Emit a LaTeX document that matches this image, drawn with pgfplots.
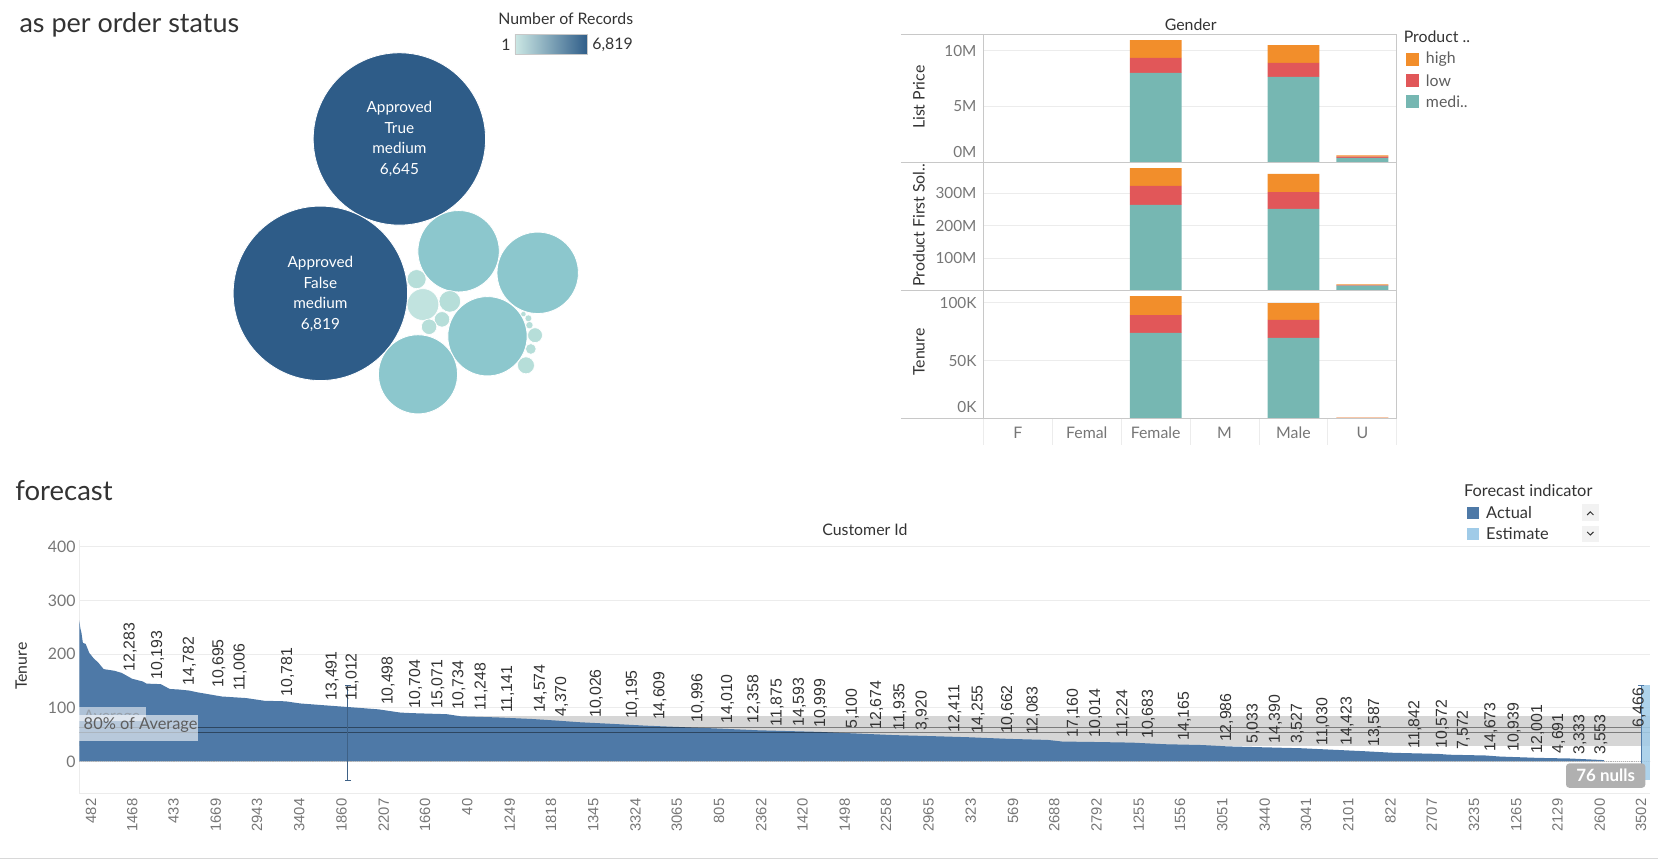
\documentclass[border=0pt]{standalone}
\usepackage{pgfplots}
\usepackage{pgfplotstable}
\pgfplotsset{compat=1.18}
\usepackage{fontspec}
\setmainfont{Lato}
\newfontfamily\arialf{Liberation Sans}
\newcommand{\fsz}[1]{\fontsize{#1}{#1}\selectfont}
\definecolor{dkblue}{RGB}{46,92,136}
\definecolor{ltteal}{RGB}{140,199,205}
\definecolor{pale}{RGB}{182,222,217}
\definecolor{thigh}{RGB}{242,142,43}
\definecolor{tlow}{RGB}{225,87,89}
\definecolor{tmed}{RGB}{118,183,178}
\definecolor{actual}{RGB}{78,121,167}
\definecolor{estim}{RGB}{160,203,232}
\definecolor{txt}{RGB}{51,51,51}
\definecolor{tickc}{RGB}{118,118,118}
\definecolor{gridc}{RGB}{236,236,236}
\definecolor{framec}{RGB}{200,200,200}
\definecolor{bandc}{RGB}{214,214,214}

\pgfplotstableread{
x med low high
2 8.0 1.35 1.6
4 7.65 1.25 1.6
5 0.40 0.10 0.12
}\tLP
\pgfplotstableread{
x med low high
2 264 59 55
4 252 52 56
5 14 2 2
}\tPF
\pgfplotstableread{
x med low high
2 73.9 15.4 16.4
4 69.6 15.5 14.6
5 0.6 0.2 0.2
}\tTN
\pgfplotstableread{
x y
75 263
76 248
77 240
78.4 221
81 219
84.5 202
88.6 192
93 184
98 172
108 169
115 165
125 154
135 149
138.6 145
152 144
160.5 135
169 134
179 132
186 129
209.6 121
233 118
250 113
270 112
284 108
304 105
324.5 102
338 100
358 97
378.6 91
389 90
422.5 88
436 84
470 82
503.6 79
527 76
548 73
578.6 70
612 66.5
656 63
670 62
717 58
774.6 55
798 53
845.6 49
883 47
916.6 45
953.6 42
991 40
1004.5 37
1041 36
1070.5 35
1102 32
1136.8 30.5
1161 28
1231 24.5
1290 19
1318 16
1360 14
1370 12.5
1405 11
1419 9
1454 6.6
1485 5.4
1517 2.4
1517 0
}\tArea
\pgfplotstableread{
x y lab
123 166 12,283
149 151 10,193
179 139 14,782
207 135 10,695
227 129 11,006
272 119 10,781
314 112 13,491
333 111 11,012
367 103 10,498
393 97 10,704
414 97 15,071
434 95 10,734
455 93 11,248
480 88 11,141
511 88 14,574
531 82 4,370
564 79 10,026
598 77 10,195
624 75 14,609
660 71 10,996
688 69 14,010
713 69 12,358
735 63 11,875
756 63 14,593
776 61 10,999
806 59 5,100
829 57 12,674
851 55 11,935
872 55 3,920
903 52 12,411
925 49 14,255
953 49 10,662
977 47 12,083
1015 43 17,160
1036 43 10,014
1062 43 11,224
1086 40 10,683
1120 37 14,165
1160 34 12,986
1185 31 5,033
1206 31 14,390
1227 31 3,527
1251 28 11,030
1274 28 14,423
1300 25 13,587
1338 22 11,842
1364 22 10,572
1384 19 7,572
1410 17 14,673
1432 16 10,939
1454 13 12,001
1474 13 4,691
1494 11 3,333
1514 11 3,553
1550 61 6,466
}\tLab

\pgfplotsset{
  bp/.style={width=391pt, height=121pt, scale only axis, anchor=north west,
    xmin=-0.5, xmax=5.5, xtick=\empty, ybar stacked, bar width=49pt,
    axis line style={draw=none}, ymajorgrids, grid style={draw=gridc, line width=0.7pt},
    major tick length=0pt, ymin=0,
    yticklabel style={font=\fsz{14.5}, text=tickc, xshift=-3pt},
    clip=false},
}

\begin{document}
\begin{tikzpicture}
\useasboundingbox (0pt,0pt) rectangle (1568pt,-814pt);

% ---------------- bubbles ----------------
\begin{axis}[at={(0pt,0pt)}, anchor=north west, width=1568pt, height=814pt,
  scale only axis, xmin=0, xmax=1568, ymin=0, ymax=814, y dir=reverse,
  hide axis, clip=false]
\addplot[only marks, mark=*, mark size=81.5, mark options={fill=dkblue, draw=white, line width=0.8pt}] coordinates {(377.7,131.4)};
\addplot[only marks, mark=*, mark size=82.5, mark options={fill=dkblue, draw=white, line width=0.8pt}] coordinates {(303,277.4)};
\addplot[only marks, mark=*, mark size=38.5, mark options={fill=ltteal, draw=white, line width=0.8pt}] coordinates {(433.7,237.6)};
\addplot[only marks, mark=*, mark size=38.5, mark options={fill=ltteal, draw=white, line width=0.8pt}] coordinates {(508.5,258)};
\addplot[only marks, mark=*, mark size=37.5, mark options={fill=ltteal, draw=white, line width=0.8pt}] coordinates {(461,318)};
\addplot[only marks, mark=*, mark size=37.4, mark options={fill=ltteal, draw=white, line width=0.8pt}] coordinates {(395.3,354)};
\addplot[only marks, mark=*, mark size=15, mark options={fill=pale!85!white, draw=white, line width=0.6pt}] coordinates {(400,288)};
\addplot[only marks, mark=*, mark size=9, mark options={fill=pale, draw=white, line width=0.6pt}] coordinates {(394,264)};
\addplot[only marks, mark=*, mark size=10.2, mark options={fill=pale, draw=white, line width=0.6pt}] coordinates {(425.4,285)};
\addplot[only marks, mark=*, mark size=7.3, mark options={fill=pale, draw=white, line width=0.6pt}] coordinates {(418,302)};
\addplot[only marks, mark=*, mark size=7.3, mark options={fill=pale, draw=white, line width=0.6pt}] coordinates {(405.8,309)};
\addplot[only marks, mark=*, mark size=8, mark options={fill=pale, draw=white, line width=0.6pt}] coordinates {(497.4,345.5)};
\addplot[only marks, mark=*, mark size=7, mark options={fill=pale, draw=white, line width=0.6pt}] coordinates {(506,317)};
\addplot[only marks, mark=*, mark size=5, mark options={fill=pale, draw=white, line width=0.5pt}] coordinates {(502,330)};
\addplot[only marks, mark=*, mark size=3.4, mark options={fill=pale, draw=white, line width=0.4pt}] coordinates {(500.7,307.5)};
\addplot[only marks, mark=*, mark size=3.2, mark options={fill=pale, draw=white, line width=0.4pt}] coordinates {(499.7,301)};
\addplot[only marks, mark=*, mark size=2.5, mark options={fill=pale, draw=white, line width=0.4pt}] coordinates {(495,297)};
\end{axis}

\node[align=center, text=white, font=\fontsize{14.5}{19.5}\selectfont] at (377.7pt,-131.4pt) {Approved\\True\\medium\\6,645};
\node[align=center, text=white, font=\fontsize{14.5}{19.5}\selectfont] at (303pt,-278pt) {Approved\\False\\medium\\6,819};

\node[anchor=west, text=txt, font=\fsz{25.5}] at (15pt,-24pt) {as per order status};
\node[text=txt, font=\fsz{15}] at (535pt,-18pt) {Number of Records};
\shade[left color=pale!70!white, right color=dkblue] (487pt,-33pt) rectangle (556pt,-51pt);
\draw[framec, line width=0.8pt] (487pt,-33pt) rectangle (556pt,-51pt);
\node[anchor=east, text=txt, font=\fsz{15}, inner sep=1pt] at (484pt,-42pt) {1};
\node[anchor=west, text=txt, font=\fsz{15}, inner sep=1pt] at (559pt,-42pt) {6,819};

% ---------------- bar panels ----------------
\begin{axis}[bp, at={(930pt,-32.5pt)}, ymax=11.46, ytick={5,10}, yticklabels={5M,10M},
  extra y ticks={0}, extra y tick labels={0M}, extra y tick style={grid=none, yticklabel style={yshift=10pt}}]
\addplot[fill=tmed, draw=none] table[x=x, y=med] {\tLP};
\addplot[fill=tlow, draw=none] table[x=x, y=low] {\tLP};
\addplot[fill=thigh, draw=none] table[x=x, y=high] {\tLP};
\end{axis}
\begin{axis}[bp, at={(930pt,-153.5pt)}, ymax=396, ytick={100,200,300}, yticklabels={100M,200M,300M}]
\addplot[fill=tmed, draw=none] table[x=x, y=med] {\tPF};
\addplot[fill=tlow, draw=none] table[x=x, y=low] {\tPF};
\addplot[fill=thigh, draw=none] table[x=x, y=high] {\tPF};
\end{axis}
\begin{axis}[bp, at={(930pt,-274.5pt)}, height=121.5pt, ymax=110.7, ytick={50,100}, yticklabels={50K,100K},
  extra y ticks={0}, extra y tick labels={0K}, extra y tick style={grid=none, yticklabel style={yshift=11pt}},
  xtick={0,1,2,3,4,5}, xticklabels={F,Femal,Female,M,Male,U},
  xticklabel style={font=\fsz{15}, text=tickc, yshift=-4pt}]
\addplot[fill=tmed, draw=none] table[x=x, y=med] {\tTN};
\addplot[fill=tlow, draw=none] table[x=x, y=low] {\tTN};
\addplot[fill=thigh, draw=none] table[x=x, y=high] {\tTN};
\end{axis}

\foreach \yy in {32.5,153.5,274.5,396} {\draw[framec, line width=1pt] (852pt,-\yy pt) -- (1321pt,-\yy pt);}
\draw[framec, line width=1pt] (930pt,-32.5pt) -- (930pt,-396pt);
\draw[framec, line width=1pt] (1321pt,-32.5pt) -- (1321pt,-396pt);
\foreach \xx in {930,995.2,1060.3,1125.5,1190.7,1255.8,1321} {\draw[gridc, line width=0.8pt] (\xx pt,-396pt) -- (\xx pt,-421pt);}
\node[text=txt, font=\fsz{15}] at (1126pt,-23pt) {Gender};
\node[rotate=90, text=txt, font=\fsz{15}] at (869pt,-92pt) {List Price};
\node[rotate=90, text=txt, font=\fsz{15}] at (869pt,-213pt) {Product First Sol..};
\node[rotate=90, text=txt, font=\fsz{15}] at (869pt,-333pt) {Tenure};
\node[anchor=west, text=txt, font=\fsz{15}] at (1324pt,-35pt) {Product ..};
\fill[thigh] (1330pt,-50pt) rectangle (1342pt,-62pt);
\fill[tlow] (1330pt,-70pt) rectangle (1342pt,-82pt);
\fill[tmed] (1330pt,-90pt) rectangle (1342pt,-102pt);
\node[anchor=west, text=tickc!80!black, font=\fsz{15}] at (1345pt,-56pt) {high};
\node[anchor=west, text=tickc!80!black, font=\fsz{15}] at (1345pt,-76pt) {low};
\node[anchor=west, text=tickc!80!black, font=\fsz{15}] at (1345pt,-96pt) {medi..};

% ---------------- forecast ----------------
\begin{axis}[at={(75pt,-750pt)}, anchor=south west, width=1485pt, height=239pt, scale only axis,
  xmin=75, xmax=1560, ymin=-59, ymax=412,
  axis x line*=bottom, axis y line*=left, axis line style={draw=gridc, line width=0.8pt},
  ytick={0,100,200,300,400}, yticklabels={0,100,200,300,400},
  ymajorgrids, grid style={draw=gridc, line width=0.8pt},
  major tick length=0pt,
  yticklabel style={font=\fsz{15}, text=tickc},
  xtick={86,125,164,204,243,283,323,363,402,442,482,521,561,601,640,680,720,759,799,838,878,918,958,997,1037,1077,1116,1156,1196,1235,1275,1315,1354,1394,1434,1473,1513,1552},
  xticklabels={482,1468,433,1669,2943,3404,1860,2207,1660,40,1249,1818,1345,3324,3065,805,2362,1420,1498,2258,2965,323,569,2688,2792,1255,1556,3051,3440,3041,2101,822,2707,3235,1265,2129,2600,3502},
  xticklabel style={rotate=90, anchor=east, font=\arialf\fsz{14}, text=tickc, inner sep=5pt},
  clip=false]
\addplot[fill=bandc, draw=none] coordinates {(75,29) (1560,29) (1560,85) (75,85)} -- cycle;
\addplot[fill=actual, draw=none] table[x=x, y=y] {\tArea} \closedcycle;
\addplot[densely dotted, draw=gray!60, line width=0.8pt] coordinates {(75,0) (1560,0)};
\addplot[draw=black, opacity=0.42, line width=1.6pt] coordinates {(75,63) (1560,63)};
\addplot[draw=black, opacity=0.42, line width=1.6pt] coordinates {(75,54) (1560,54)};
\addplot[draw=actual!80!black, line width=1pt, mark=-, mark size=3pt] coordinates {(329,142) (329,-35)};
\addplot[fill=estim, draw=none, opacity=0.85] coordinates {(1553,-35) (1560,-35) (1560,142) (1553,142)} -- cycle;
\addplot[draw=actual, line width=1pt, mark=-, mark size=3pt] coordinates {(1552,142) (1552,-35)};
\addplot[only marks, mark=*, mark size=0pt, mark options={draw=none, fill=none},
  nodes near coords, point meta=explicit symbolic,
  nodes near coords style={rotate=90, anchor=west, font=\arialf\fsz{15}, text=txt, inner sep=1pt}]
  table[x=x, y=y, meta=lab] {\tLab};
\end{axis}

% average label boxes
\fill[white, opacity=0.55] (75pt,-669pt) rectangle (138pt,-682pt);
\begin{scope}
\clip (75pt,-669pt) rectangle (138pt,-676pt);
\node[anchor=west, text=gray, opacity=0.5, font=\fsz{15}, inner sep=0pt] at (79pt,-678pt) {Average};
\end{scope}
\fill[white, opacity=0.6] (75pt,-676pt) rectangle (187pt,-701pt);
\node[anchor=west, text=tickc!80!black, font=\fsz{15.5}, inner sep=0pt] at (79pt,-686pt) {80\% of Average};

\node[rounded corners=3pt, fill=gray!62, text=white, font=\bfseries\fsz{16}, minimum width=75pt, minimum height=23pt, inner sep=0pt] at (1518.5pt,-733.5pt) {76 nulls};

\node[anchor=west, text=txt, font=\fsz{26}] at (11pt,-464pt) {forecast};
\node[text=txt, font=\fsz{15}] at (818pt,-501pt) {Customer Id};
\node[rotate=90, text=txt, font=\fsz{15}] at (20pt,-630pt) {Tenure};
\node[anchor=west, text=txt, font=\fsz{15.5}] at (1381pt,-464pt) {Forecast indicator};
\fill[actual] (1387pt,-479pt) rectangle (1399pt,-491pt);
\fill[estim] (1387pt,-499pt) rectangle (1399pt,-511pt);
\node[anchor=west, text=txt, font=\fsz{15.5}] at (1402pt,-485pt) {Actual};
\node[anchor=west, text=txt, font=\fsz{15.5}] at (1402pt,-505pt) {Estimate};
\fill[gray!10] (1496pt,-477pt) rectangle (1512pt,-493pt);
\fill[gray!10] (1496pt,-497pt) rectangle (1512pt,-513pt);
\draw[txt, line width=0.9pt] (1501pt,-487pt) -- (1504pt,-484pt) -- (1507pt,-487pt);
\draw[txt, line width=0.9pt] (1501pt,-503pt) -- (1504pt,-506pt) -- (1507pt,-503pt);

\draw[framec!70, line width=1pt] (0pt,-812pt) -- (1568pt,-812pt);
\end{tikzpicture}
\end{document}
